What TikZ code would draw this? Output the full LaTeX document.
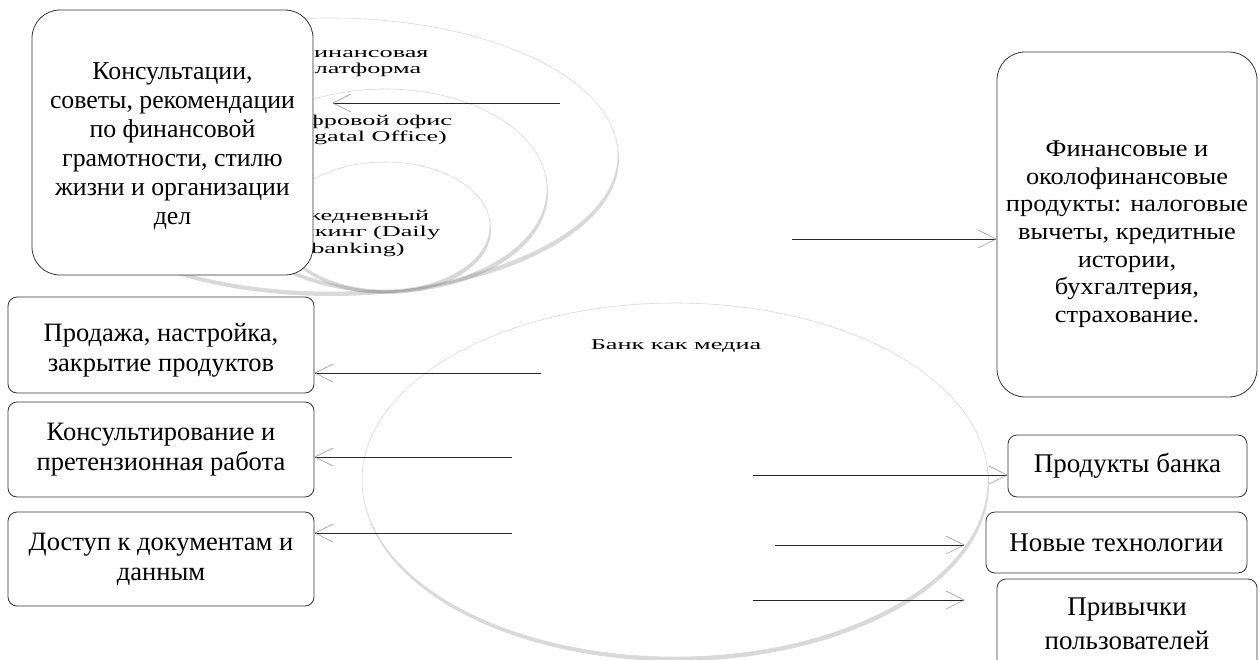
\documentclass[tikz,border=0pt]{standalone}
\usepackage{fontspec}
\setmainfont{Liberation Serif}
\newfontfamily\widefont[FakeStretch=1.75]{Liberation Serif}
\newfontfamily\strfont[FakeStretch=1.1]{Liberation Serif}
\usetikzlibrary{arrows.meta,shadows}
\newcommand\setfs[2]{\fontsize{#1}{#2}\selectfont}
\newcommand\lowerby[1]{\rule{0pt}{#1}}
\begin{document}
\begin{tikzpicture}[x=1pt,y=-1pt,
  box/.style={draw=black!80, line width=0.8pt, fill=white, align=center, inner sep=0pt, rounded corners=#1},
  box/.default=9pt,
  ell/.style={draw=black!15, line width=0.6pt, fill=white,
    drop shadow={shadow xshift=1pt, shadow yshift=-4pt, opacity=0.3, fill=black!50}},
  conn/.style={draw=black!85, line width=0.7pt,
    -{Straight Barb[length=18pt,width=18pt,line width=0.5pt,color=black!45]}},
  etext/.style={align=center, font=\widefont\setfs{15pt}{16.5pt}, inner sep=0pt},
  ltext/.style={font=\setfs{26.5pt}{30pt}},
  rtext/.style={font=\setfs{27pt}{34pt}},
]
\useasboundingbox (0,0) rectangle (1259,659);
\clip (0,0) rectangle (1259,659);

% top nested ellipses
\path[ell] (330,155) ellipse [x radius=288pt, y radius=137pt];
\node[etext] (t1) at (361,62) {Финансовая\\платформа};
\path[ell] (385,189) ellipse [x radius=162pt, y radius=100pt];
\node[etext] (t2) at (363,130) {Цифровой офис\\(Digatal Office)};
\path[ell] (385,226) ellipse [x radius=105pt, y radius=64pt];
\node[etext] (t3) at (358,233) {Ежедневный\\банкинг (Daily\\banking)};

% big ellipse
\path[ell] (675,480) ellipse [x radius=313pt, y radius=177pt];
\node[etext] (bm) at (676,346) {Банк как медиа};

% boxes
\node[box=28pt, minimum width=281pt, minimum height=265pt, font=\setfs{25.8pt}{29pt}] (cons) at (172.5,142.5)
  {\lowerby{24pt}Консультации,\\советы, рекомендации\\по финансовой\\грамотности, стилю\\жизни и организации\\дел};
\node[box, minimum width=306pt, minimum height=96pt, ltext] (sale) at (161,345)
  {\lowerby{28pt}Продажа, настройка,\\закрытие продуктов};
\node[box, minimum width=306pt, minimum height=95pt, ltext] (cons2) at (161,449.5)
  {Консультирование и\\претензионная работа};
\node[box, minimum width=306pt, minimum height=94pt, ltext] (acc) at (161,559)
  {Доступ к документам и\\данным};
\node[box=28pt, minimum width=260pt, minimum height=345pt, font=\strfont\setfs{24pt}{27.7pt}] (fin) at (1127,224.5)
  {\lowerby{35pt}Финансовые и\\околофинансовые\\продукты: налоговые\\вычеты, кредитные\\истории,\\бухгалтерия,\\страхование.};
\node[box, minimum width=239pt, minimum height=62pt, rtext] (prod) at (1127.5,466) {Продукты банка};
\node[box, minimum width=261pt, minimum height=61pt, rtext] (tech) at (1116.5,542.5) {Новые технологии};
\node[box, minimum width=260pt, minimum height=90pt, rtext] (hab) at (1127,624) {Привычки\\пользователей};

% connectors
\coordinate (s1) at (560,103);
\draw[conn, shorten >=19pt] (s1) -- (s1 -| cons.east);
\coordinate (s2) at (792,239);
\draw[conn] (s2) -- (s2 -| fin.west);
\coordinate (s3) at (541,373);
\draw[conn] (s3) -- (s3 -| sale.east);
\coordinate (s4) at (512,457);
\draw[conn] (s4) -- (s4 -| cons2.east);
\coordinate (s5) at (512,533);
\draw[conn] (s5) -- (s5 -| acc.east);
\coordinate (s6) at (753,475);
\draw[conn] (s6) -- (s6 -| prod.west);
\coordinate (s7) at (775,545);
\draw[conn, shorten >=21pt] (s7) -- (s7 -| tech.west);
\coordinate (s8) at (753,600);
\draw[conn, shorten >=32pt] (s8) -- (s8 -| hab.west);
\end{tikzpicture}
\end{document}
